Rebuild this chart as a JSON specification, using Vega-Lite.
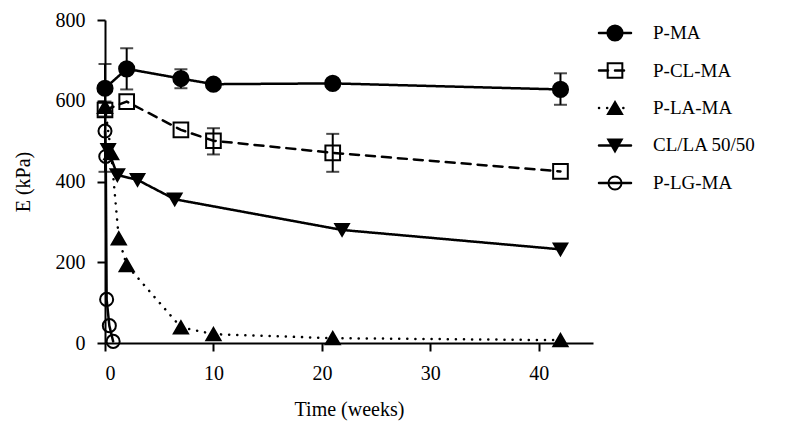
{
  "$schema": "https://vega.github.io/schema/vega-lite/v6.json",
  "autosize": {"type": "pad"},
  "bounds": "flush",
  "spacing": 5,
  "padding": {"left": 13, "top": 10, "right": 16, "bottom": 18},
  "background": "white",
  "config": {
    "view": {"stroke": null},
    "font": "Liberation Serif",
    "axis": {
      "grid": false,
      "domainColor": "black",
      "domainWidth": 2,
      "tickColor": "black",
      "tickWidth": 2,
      "tickSize": 8,
      "labelColor": "black",
      "labelFont": "Liberation Serif",
      "labelFontSize": 20,
      "titleFont": "Liberation Serif",
      "titleFontSize": 20,
      "titleFontWeight": "normal",
      "titleColor": "black"
    }
  },
  "datasets": {
    "pts": [
      {"series": "P-MA", "t": 0, "E": 631},
      {"series": "P-MA", "t": 2, "E": 679},
      {"series": "P-MA", "t": 7, "E": 655},
      {"series": "P-MA", "t": 10, "E": 641},
      {"series": "P-MA", "t": 21, "E": 643},
      {"series": "P-MA", "t": 42, "E": 628},
      {"series": "P-CL-MA", "t": 0, "E": 577},
      {"series": "P-CL-MA", "t": 2, "E": 598},
      {"series": "P-CL-MA", "t": 7, "E": 528},
      {"series": "P-CL-MA", "t": 10, "E": 501},
      {"series": "P-CL-MA", "t": 21, "E": 471},
      {"series": "P-CL-MA", "t": 42, "E": 425},
      {"series": "P-LA-MA", "t": 0, "E": 585},
      {"series": "P-LA-MA", "t": 0.57, "E": 470},
      {"series": "P-LA-MA", "t": 1.27, "E": 259},
      {"series": "P-LA-MA", "t": 2, "E": 193},
      {"series": "P-LA-MA", "t": 7, "E": 39},
      {"series": "P-LA-MA", "t": 10, "E": 22},
      {"series": "P-LA-MA", "t": 21, "E": 12},
      {"series": "P-LA-MA", "t": 42, "E": 7},
      {"series": "CL/LA 50/50", "t": 0.29, "E": 478},
      {"series": "CL/LA 50/50", "t": 1.14, "E": 416},
      {"series": "CL/LA 50/50", "t": 3, "E": 404},
      {"series": "CL/LA 50/50", "t": 6.43, "E": 356},
      {"series": "CL/LA 50/50", "t": 21.86, "E": 280},
      {"series": "CL/LA 50/50", "t": 42, "E": 232},
      {"series": "P-LG-MA", "t": 0, "E": 525},
      {"series": "P-LG-MA", "t": 0.07, "E": 462},
      {"series": "P-LG-MA", "t": 0.15, "E": 108},
      {"series": "P-LG-MA", "t": 0.4, "E": 43},
      {"series": "P-LG-MA", "t": 0.75, "E": 4}
    ],
    "errs": [
      {"series": "P-MA", "t": 0, "lo": 571, "hi": 691},
      {"series": "P-MA", "t": 2, "lo": 628, "hi": 730},
      {"series": "P-MA", "t": 7, "lo": 631, "hi": 678},
      {"series": "P-MA", "t": 42, "lo": 590, "hi": 668},
      {"series": "P-CL-MA", "t": 0, "lo": 561, "hi": 598},
      {"series": "P-CL-MA", "t": 10, "lo": 467, "hi": 532},
      {"series": "P-CL-MA", "t": 21, "lo": 424, "hi": 518},
      {"series": "P-LG-MA", "t": 0, "lo": 424, "hi": 625}
    ],
    "keys": [
      {"series": "P-MA"},
      {"series": "P-CL-MA"},
      {"series": "P-LA-MA"},
      {"series": "CL/LA 50/50"},
      {"series": "P-LG-MA"}
    ]
  },
  "hconcat": [
    {
      "width": 488,
      "height": 323,
      "layer": [
        {
          "data": {"name": "errs"},
          "mark": {"type": "errorbar", "ticks": {"size": 13, "thickness": 2, "color": "black"}, "rule": {"strokeWidth": 2, "color": "black"}},
          "encoding": {
            "x": {"field": "t", "type": "quantitative", "title": "Time (weeks)"},
            "y": {"field": "lo", "type": "quantitative", "title": "E (kPa)"},
            "y2": {"field": "hi"}
          }
        },
        {
          "data": {"name": "pts"},
          "mark": {"type": "line", "color": "black", "strokeWidth": 2.5, "strokeCap": "round"},
          "encoding": {
            "x": {"field": "t", "type": "quantitative", "scale": {"domain": [0, 44]},
                  "axis": {"values": [0, 10, 20, 30, 40], "title": "Time (weeks)", "labelPadding": 12, "titlePadding": 16}},
            "y": {"field": "E", "type": "quantitative", "scale": {"domain": [0, 800]},
                  "axis": {"values": [0, 200, 400, 600, 800], "title": "E (kPa)", "labelPadding": 12, "titlePadding": 22}},
            "detail": {"field": "series"},
            "strokeDash": {
              "field": "series", "type": "nominal",
              "scale": {"domain": ["P-MA", "P-CL-MA", "P-LA-MA", "CL/LA 50/50", "P-LG-MA"],
                        "range": [[1, 0], [9, 7], [0.1, 8], [1, 0], [1, 0]]},
              "legend": null
            }
          }
        },
        {
          "data": {"name": "pts"},
          "mark": {"type": "point", "stroke": "black", "strokeWidth": 2, "opacity": 1},
          "encoding": {
            "x": {"field": "t", "type": "quantitative", "title": "Time (weeks)"},
            "y": {"field": "E", "type": "quantitative", "title": "E (kPa)"},
            "shape": {
              "field": "series", "type": "nominal",
              "scale": {"domain": ["P-MA", "P-CL-MA", "P-LA-MA", "CL/LA 50/50", "P-LG-MA"],
                        "range": ["circle", "square", "triangle-up", "triangle-down", "circle"]},
              "legend": null
            },
            "fill": {
              "field": "series", "type": "nominal",
              "scale": {"domain": ["P-MA", "P-CL-MA", "P-LA-MA", "CL/LA 50/50", "P-LG-MA"],
                        "range": ["black", "transparent", "black", "black", "transparent"]},
              "legend": null
            },
            "size": {
              "field": "series", "type": "nominal",
              "scale": {"domain": ["P-MA", "P-CL-MA", "P-LA-MA", "CL/LA 50/50", "P-LG-MA"],
                        "range": [230, 170, 260, 260, 210]},
              "legend": null
            }
          }
        }
      ]
    },
    {
      "width": 190,
      "height": 176,
      "data": {"name": "keys"},
      "encoding": {
        "y": {"field": "series", "type": "nominal", "axis": null,
              "scale": {"type": "point", "padding": 0.347, "domain": ["P-MA", "P-CL-MA", "P-LA-MA", "CL/LA 50/50", "P-LG-MA"]}}
      },
      "layer": [
        {
          "mark": {"type": "rule", "color": "black", "strokeWidth": 2.5, "strokeCap": "round"},
          "encoding": {
            "x": {"datum": 1, "type": "quantitative", "axis": null, "scale": {"domain": [0, 190], "nice": false, "zero": false}},
            "x2": {"datum": 33},
            "strokeDash": {
              "field": "series", "type": "nominal",
              "scale": {"domain": ["P-MA", "P-CL-MA", "P-LA-MA", "CL/LA 50/50", "P-LG-MA"],
                        "range": [[1, 0], [6, 22], [0.1, 7], [1, 0], [1, 0]]},
              "legend": null
            }
          }
        },
        {
          "mark": {"type": "point", "stroke": "black", "strokeWidth": 2, "opacity": 1},
          "encoding": {
            "x": {"datum": 17, "type": "quantitative"},
            "shape": {
              "field": "series", "type": "nominal",
              "scale": {"domain": ["P-MA", "P-CL-MA", "P-LA-MA", "CL/LA 50/50", "P-LG-MA"],
                        "range": ["circle", "square", "triangle-up", "triangle-down", "circle"]},
              "legend": null
            },
            "fill": {
              "field": "series", "type": "nominal",
              "scale": {"domain": ["P-MA", "P-CL-MA", "P-LA-MA", "CL/LA 50/50", "P-LG-MA"],
                        "range": ["black", "transparent", "black", "black", "transparent"]},
              "legend": null
            },
            "size": {
              "field": "series", "type": "nominal",
              "scale": {"domain": ["P-MA", "P-CL-MA", "P-LA-MA", "CL/LA 50/50", "P-LG-MA"],
                        "range": [230, 170, 260, 260, 210]},
              "legend": null
            }
          }
        },
        {
          "mark": {"type": "text", "align": "left", "baseline": "middle", "font": "Liberation Serif", "fontSize": 19, "color": "black"},
          "encoding": {
            "x": {"datum": 55, "type": "quantitative"},
            "text": {"field": "series"}
          }
        }
      ]
    }
  ]
}
